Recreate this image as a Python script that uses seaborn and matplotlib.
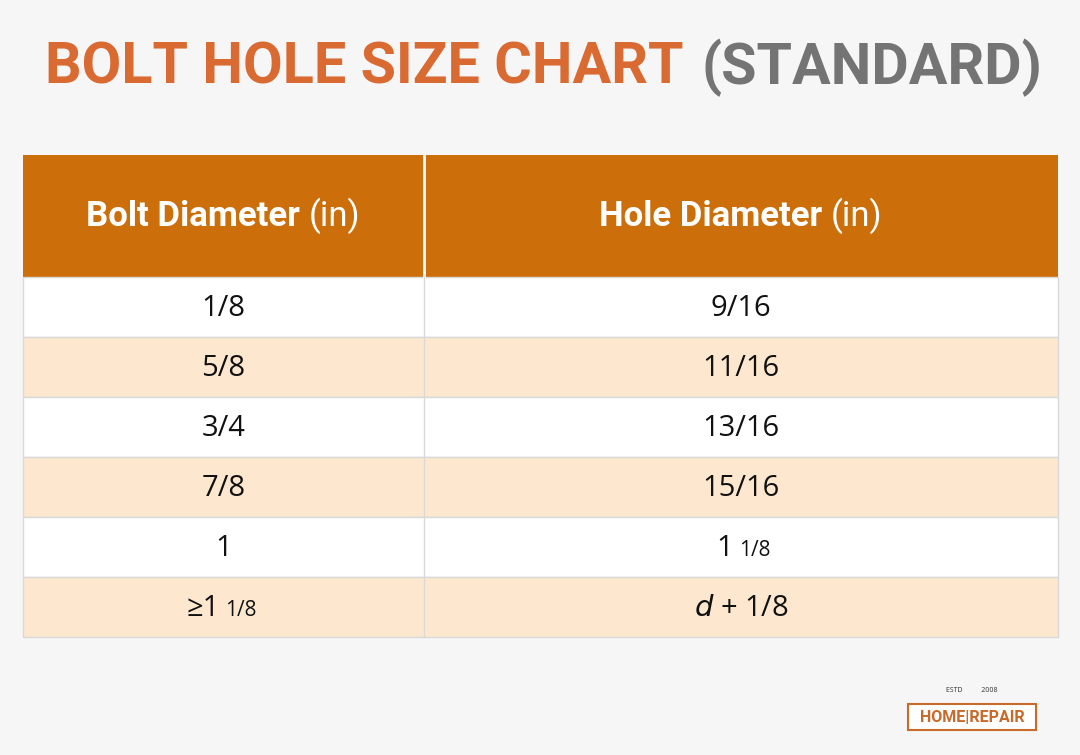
import matplotlib
matplotlib.use("Agg")
import matplotlib.pyplot as plt
import seaborn as sns
import numpy as np

bolt = ["1/8", "5/8", "3/4", "7/8", "1", "≥1 1/8"]
hole = ["9/16", "11/16", "13/16", "15/16", "1 1/8", "d + 1/8"]
headers = ["Bolt Diameter", "Hole Diameter"]

sns.set_theme(style="white")
plt.rcParams['font.family'] = ['Open Sans', 'DejaVu Sans']
narrow = ["Roboto", "DejaVu Sans"]

W, H = 1080, 755
fig = plt.figure(figsize=(W/100, H/100), dpi=100)
fig.patch.set_facecolor("#f6f6f6")
ax = fig.add_axes([0, 0, 1, 1])
ax.set_xlim(0, W); ax.set_ylim(H, 0); ax.axis("off")

fs = 62
t1 = ax.text(45, 68, "BOLT HOLE SIZE CHART", color="#d86a32", fontsize=fs,
             fontweight="bold", family=narrow, va="center", ha="left")
t2 = ax.text(0, 68, "(STANDARD)", color="#747474", fontsize=fs,
             fontweight="bold", family=narrow, va="center", ha="left")
fig.canvas.draw()
r = fig.canvas.get_renderer()
w1 = t1.get_window_extent(r).width
w2 = t2.get_window_extent(r).width
scale = min(1.0, (1043 - 45 - 18) / (w1 + w2))
t1.set_fontsize(fs * scale); t2.set_fontsize(fs * scale)
fig.canvas.draw()
t2.set_x(45 + t1.get_window_extent(r).width + 18)

L, M, R = 23, 424, 1058
top, hh, rh = 155, 122, 60
ax.barh([top + hh/2], [R - L], left=L, height=hh, color="#cc6e0a", edgecolor="none")
ax.plot([M, M], [top, top + hh], color="white", lw=2)
for i, hd in enumerate(headers):
    cx = (L + M) / 2 if i == 0 else (M + R) / 2
    a = ax.text(cx, top + hh/2, hd + " ", color="white", fontsize=25, fontweight="bold",
                family=narrow, ha="right", va="center")
    b = ax.text(cx, top + hh/2, "(in)", color="white", fontsize=25,
                family=narrow, ha="left", va="center")
    fig.canvas.draw()
    wa = a.get_window_extent(r).width; wb = b.get_window_extent(r).width
    shift = (wa - wb) / 2
    a.set_x(cx + shift); b.set_x(cx + shift)

ys = top + hh + rh * (np.arange(len(bolt)) + 0.5)
colors = ["#ffffff" if i % 2 == 0 else "#fde8cf" for i in range(len(bolt))]
ax.barh(ys, [R - L] * len(bolt), left=L, height=rh, color=colors,
        edgecolor="#d9d9d9", linewidth=1)
ax.plot([M, M], [top + hh, top + hh + rh * len(bolt)], color="#d9d9d9", lw=1)
tc = "#111111"
for y, b, h in zip(ys + 2, bolt, hole):
    for cx, s in (((L + M) / 2, b), ((M + R) / 2, h)):
        if s == "1 1/8":
            ax.text(cx - 8, y, "1", fontsize=21, ha="right", va="center", color=tc)
            ax.text(cx - 2, y + 2, "1/8", fontsize=15, ha="left", va="center", color=tc)
        elif s.startswith("≥"):
            ax.text(cx - 4, y, "≥1", fontsize=21, ha="right", va="center", color=tc)
            ax.text(cx + 2, y + 2, "1/8", fontsize=15, ha="left", va="center", color=tc)
        elif s.startswith("d"):
            ax.text(cx, y, r"$d$ + 1/8", fontsize=21, ha="center", va="center", color=tc)
        else:
            ax.text(cx, y, s, fontsize=21, ha="center", va="center", color=tc)

ax.barh([717], [128], left=908, height=26, color="white", edgecolor="#c86a2a", lw=1.5)
ax.text(972, 717, "HOME|REPAIR", fontsize=11.5, fontweight="bold", color="#c86a2a",
        ha="center", va="center", family=narrow)
ax.text(972, 690, "ESTD          2008", fontsize=5, color="#333", ha="center", va="center")

fig.savefig("out.png", dpi=100, facecolor=fig.get_facecolor())
